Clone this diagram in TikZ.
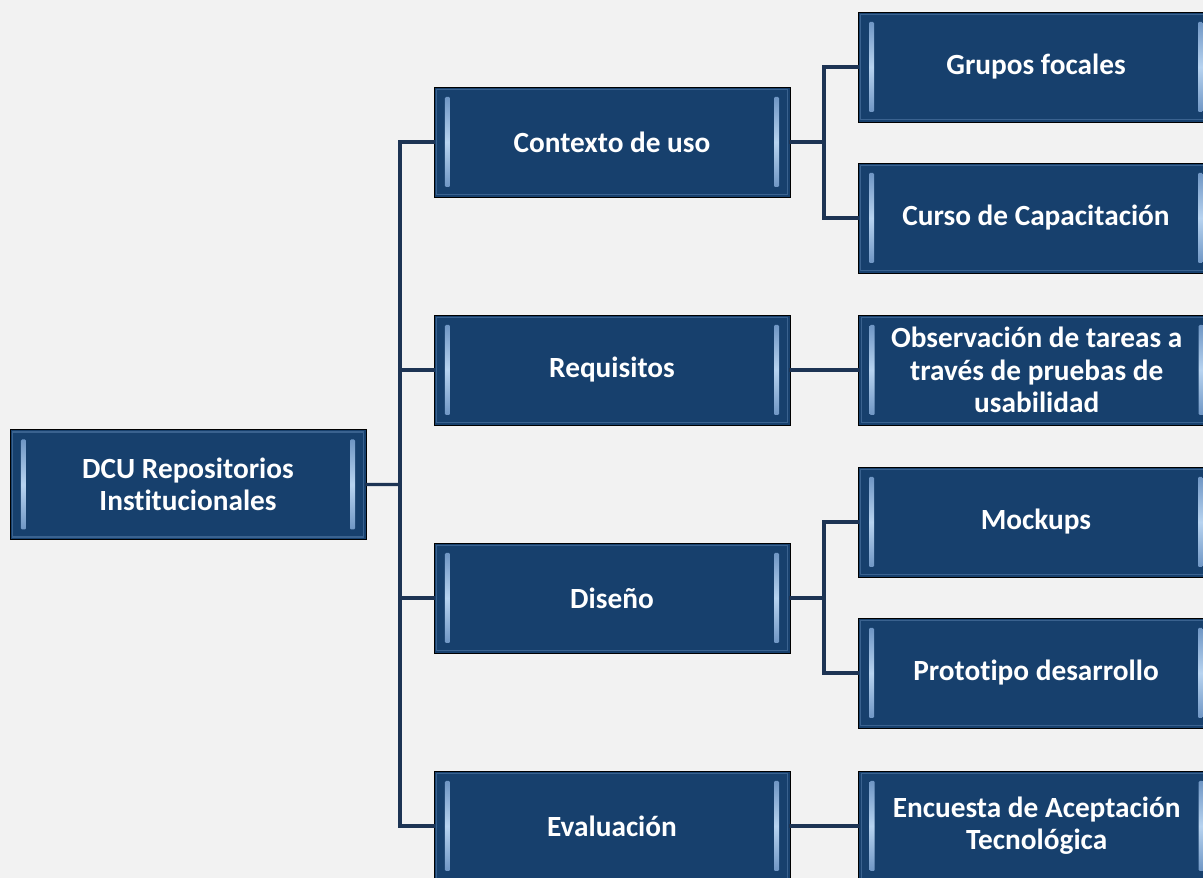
\documentclass[tikz,border=0pt]{standalone}
\usepackage{fontspec}
\setmainfont{Carlito}[Ligatures=NoCommon]
\usetikzlibrary{positioning,calc}
\definecolor{boxblue}{HTML}{17406D}
\definecolor{bevelblue}{HTML}{3A628F}
\definecolor{barlight}{HTML}{B7D3F0}
\definecolor{bardark}{HTML}{6F96C4}
\definecolor{linknavy}{HTML}{1D3454}
\definecolor{paper}{HTML}{F2F2F2}
\tikzset{
  dcu/.style={draw=black,line width=0.6pt,fill=boxblue,
            minimum width=10.68cm,minimum height=3.3cm,inner sep=0pt,
            align=center,text=white,font=\fontsize{25}{27.5}\selectfont\bfseries,
            path picture={
              \draw[bevelblue,line width=1.2pt]
                ($(path picture bounding box.south west)+(0.08cm,0.08cm)$) rectangle
                ($(path picture bounding box.north east)+(-0.08cm,-0.08cm)$);
              \shade[top color=bardark,bottom color=bardark,middle color=barlight,rounded corners=1pt]
                ($(path picture bounding box.south west)+(0.33cm,0.3cm)$) rectangle ++(0.15cm,2.7cm);
              \shade[top color=bardark,bottom color=bardark,middle color=barlight,rounded corners=1pt]
                ($(path picture bounding box.north east)+(-0.33cm,-0.3cm)$) rectangle ++(-0.15cm,-2.7cm);
            }},
  link/.style={linknavy,line width=2.6pt,line cap=rect},
}

\begin{document}
\begin{tikzpicture}[x=0.03cm,y=0.03cm]
  \useasboundingbox (0,0) rectangle (1203,878);
  \fill[paper] (0,0) rectangle (1203,878);
  \clip (0,0) rectangle (1203,878);

  % root and phases
  \node[dcu] (root) at (188,393.5) {DCU Repositorios\\Institucionales};
  \node[dcu] (ctx) at (612,736) {Contexto de uso};
  \node[dcu] (req) at (612,508) {Requisitos};
  \node[dcu] (dis) at (612,280) {Diseño};
  \node[dcu] (eva) at (612,52) {Evaluación};

  % techniques
  \node[dcu] (gru) at (1036,811) {Grupos focales};
  \node[dcu] (cur) at (1036,660) {Curso de Capacitación};
  \node[dcu,right=2.04cm of req] (obs) {Observación de tareas a\\través de pruebas de\\usabilidad};
  \node[dcu] (moc) at (1036,356) {Mockups};
  \node[dcu] (pro) at (1036,205) {Prototipo desarrollo};
  \node[dcu,right=2.04cm of eva] (enc) {Encuesta de Aceptación\\Tecnológica};

  % trunk from root
  \coordinate (trunk) at ($(root.east)!0.5!(ctx.west |- root.east)$);
  \draw[link] (root.east) -- (trunk);
  \draw[link] (trunk |- ctx.west) -- (trunk |- eva.west);
  \foreach \n in {ctx,req,dis,eva}
    \draw[link] (trunk |- \n.west) -- (\n.west);

  % forks to techniques
  \coordinate (ctxfork) at ($(ctx.east)!0.5!(gru.west |- ctx.east)$);
  \draw[link] (ctx.east) -- (ctxfork);
  \draw[link] (ctxfork |- gru.west) -- (ctxfork |- cur.west);
  \foreach \n in {gru,cur}
    \draw[link] (ctxfork |- \n.west) -- (\n.west);

  \coordinate (disfork) at ($(dis.east)!0.5!(moc.west |- dis.east)$);
  \draw[link] (dis.east) -- (disfork);
  \draw[link] (disfork |- moc.west) -- (disfork |- pro.west);
  \foreach \n in {moc,pro}
    \draw[link] (disfork |- \n.west) -- (\n.west);

  \draw[link] (req.east) -- (obs.west);
  \draw[link] (eva.east) -- (enc.west);
\end{tikzpicture}
\end{document}
